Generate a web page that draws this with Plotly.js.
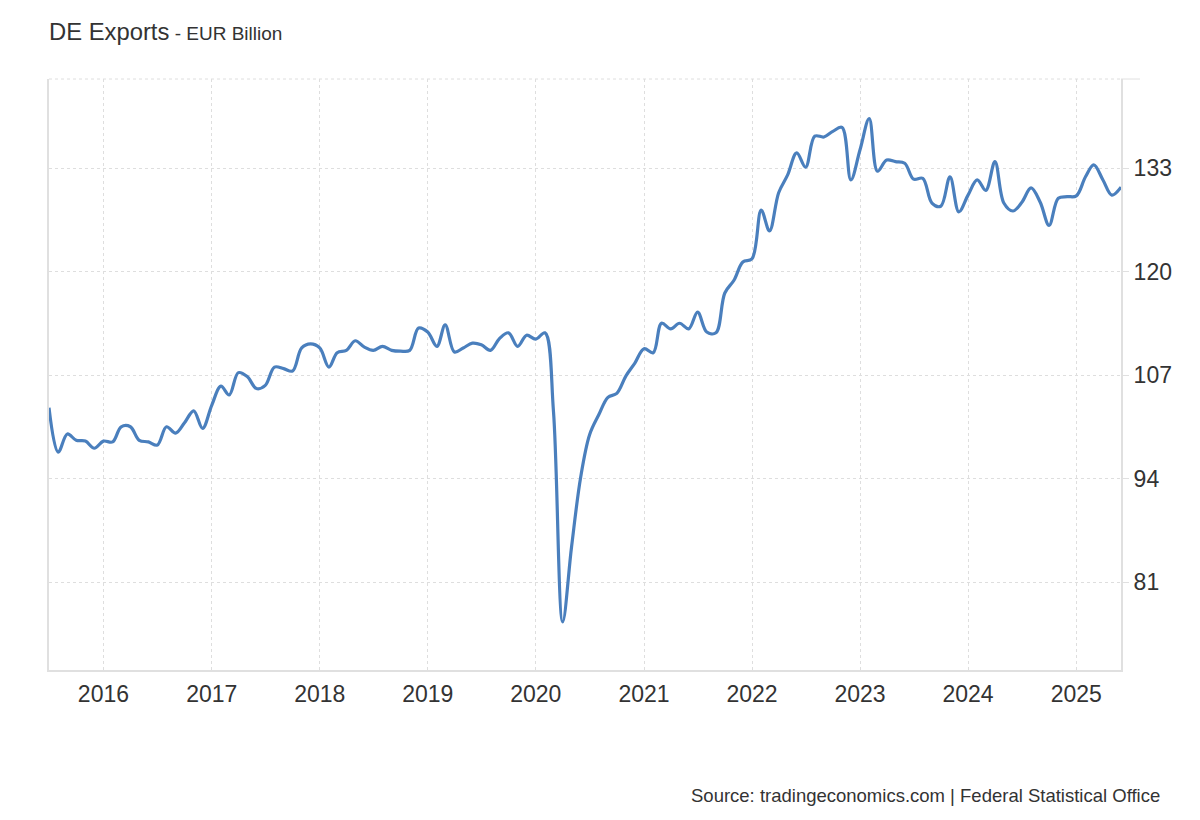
<!DOCTYPE html>
<html>
<head>
<meta charset="utf-8">
<script src="https://cdn.plot.ly/plotly-3.0.1.min.js"></script>
<style>html,body{margin:0;padding:0;background:#fff;}#chart{width:1200px;height:820px;}</style>
</head>
<body>
<div id="chart"></div>
<script>
// Monthly DE exports, EUR billion, Jul 2015 - Jun 2025
const startMonth = "2015-07";
const exports2015 = [102.9, 97.3, 99.6, 98.8, 98.7, 97.8];
const exports2016 = [98.7, 98.6, 100.5, 100.5, 98.8, 98.6, 98.2, 100.5, 99.7, 101.0, 102.5, 100.3];
const exports2017 = [103.2, 105.6, 104.5, 107.3, 106.8, 105.3, 105.7, 108.0, 107.8, 107.5, 110.4, 110.9];
const exports2018 = [110.4, 108.0, 109.8, 110.1, 111.3, 110.5, 110.1, 110.6, 110.1, 110.0, 110.1, 112.9];
const exports2019 = [112.4, 110.6, 113.3, 109.9, 110.4, 111.0, 110.8, 110.1, 111.6, 112.3, 110.6, 112.0];
const exports2020 = [111.5, 112.3, 102.4, 76.0, 85.4, 94.2, 99.5, 102.0, 104.2, 104.7, 106.9, 108.5];
const exports2021 = [110.3, 109.8, 113.5, 112.8, 113.5, 112.8, 114.9, 112.4, 112.3, 117.3, 118.9, 121.2];
const exports2022 = [121.6, 127.7, 125.1, 129.9, 132.1, 134.9, 133.1, 137.0, 136.9, 137.6, 138.1, 131.5];
const exports2023 = [135.3, 139.2, 132.6, 134.0, 133.8, 133.6, 131.6, 131.7, 128.6, 128.2, 131.9, 127.5];
const exports2024 = [129.6, 131.5, 130.2, 133.8, 128.6, 127.6, 128.7, 130.5, 128.7, 125.8, 129.2, 129.4];
const exports2025 = [129.5, 131.9, 133.4, 131.5, 129.6, 130.6];
const yTicks = [81, 94, 107, 120, 133];

const values = [].concat(exports2015, exports2016, exports2017, exports2018, exports2019,
  exports2020, exports2021, exports2022, exports2023, exports2024, exports2025);
const dates = values.map((v, i) => {
  const y0 = 2015, m0 = 6; // July (0-based)
  const t = m0 + i;
  const yy = y0 + Math.floor(t / 12);
  const mm = (t % 12) + 1;
  return yy + "-" + String(mm).padStart(2, "0") + "-01";
});

const W = 1200, H = 820;
const L = 49, R = 1121, T = 79, B = 670;
const pw = R - L, ph = B - T;

const trace = {
  x: dates, y: values, type: "scatter", mode: "lines",
  line: {color: "#4a7fbd", width: 3.2, shape: "spline", smoothing: 1},
  hoverinfo: "x+y"
};

const layout = {
  width: W, height: H,
  margin: {l: L, r: W - R, t: T, b: H - B, pad: 0},
  paper_bgcolor: "#fff", plot_bgcolor: "#fff",
  showlegend: false,
  font: {family: "Liberation Sans, Arial, sans-serif", color: "#333"},
  title: {
    text: "DE Exports<span style='font-size:19px'> - EUR Billion</span>",
    font: {size: 23.8, color: "#333", family: "Liberation Sans, Arial, sans-serif"},
    x: L / W, xanchor: "left", xref: "container",
    y: 1 - 32 / H, yanchor: "middle", yref: "container"
  },
  xaxis: {
    type: "date",
    range: [dates[0], dates[dates.length - 1]],
    tick0: "2016-01-01", dtick: "M12", tickformat: "%Y",
    showgrid: true, gridcolor: "#dedede", griddash: "dot", gridwidth: 1,
    showline: true, linecolor: "#e0e0e0", linewidth: 2,
    ticks: "outside", ticklen: 2, tickcolor: "rgba(0,0,0,0)",
    tickfont: {size: 23, color: "#333"},
    zeroline: false, fixedrange: true
  },
  yaxis: {
    side: "right",
    range: [69.95, 144.18],
    tickmode: "array", tickvals: yTicks, ticktext: yTicks.map(String),
    showgrid: true, gridcolor: "#dedede", griddash: "dot", gridwidth: 1,
    showline: true, linecolor: "#e0e0e0", linewidth: 2, mirror: true,
    ticks: "outside", ticklen: 6, tickcolor: "#e0e0e0", tickwidth: 1,
    tickfont: {size: 23, color: "#333"},
    zeroline: false, fixedrange: true
  },
  shapes: [
    {type: "line", xref: "paper", yref: "paper", x0: 0, x1: 1, y0: 1, y1: 1,
     line: {color: "#dedede", width: 1, dash: "dot"}},
    {type: "line", xref: "paper", yref: "paper", x0: 1, x1: 1 + 19 / pw, y0: 1, y1: 1,
     line: {color: "#e0e0e0", width: 1}}
  ],
  annotations: [
    {text: "Source: tradingeconomics.com | Federal Statistical Office",
     xref: "paper", yref: "paper",
     x: (1162 - L) / pw, xanchor: "right",
     y: (B - 795) / ph, yanchor: "middle",
     showarrow: false,
     font: {size: 18.5, color: "#333", family: "Liberation Sans, Arial, sans-serif"}}
  ]
};

Plotly.newPlot("chart", [trace], layout, {displayModeBar: false, staticPlot: true});
</script>
</body>
</html>
